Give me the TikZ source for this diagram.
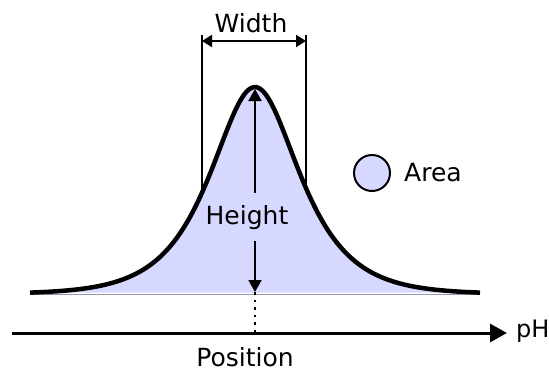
\documentclass[tikz,border=0pt]{standalone}
\usepackage{fontspec}
\setmainfont{DejaVu Sans}
\usetikzlibrary{positioning,arrows.meta}
\definecolor{peakfill}{RGB}{214,216,255}
\definecolor{peakedge}{RGB}{150,150,175}

\begin{document}
\begin{tikzpicture}[
      x=1pt, y=-1pt,
      lbl/.style={font=\fontsize{25}{30}\selectfont, inner sep=0pt},
      guide/.style={line width=2pt},
      arr/.style={-{Triangle[length=12pt, width=13pt]}, line width=2pt},
      dimarr/.style={{Triangle[length=10pt, width=12pt]}-{Triangle[length=10pt, width=12pt]}, line width=2pt},
      axis/.style={-{Triangle[length=17pt, width=18pt]}, line width=3pt}
  ]
    \useasboundingbox (0,0) rectangle (549,372);
    % width guides
    \coordinate (wltop) at (202,35);
    \coordinate (wlbot) at (202,189);
    \coordinate (wrtop) at (306,35);
    \coordinate (wrbot) at (306,189);
    \coordinate (wlmid) at (202,41);
    \coordinate (wrmid) at (306,41);
    \draw[guide] (wltop) -- (wlbot);
    \draw[guide] (wrtop) -- (wrbot);
    \draw[dimarr] (wlmid) -- (wrmid);
    \node[lbl, anchor=base] (widthlabel) at (251,32) {Width};
    % peak
    \coordinate (tailleft) at (30,294);
    \coordinate (tailright) at (480,294);
    \fill[peakfill] plot[domain=-225:225, samples=160] ({255+\x},{294-207/cosh(\x/39.5)}) -- cycle;
    \draw[peakedge, line width=0.8pt] (tailleft) -- (tailright);
    \draw[line width=4.5pt] plot[domain=-225:225, samples=160, smooth] ({255+\x},{294-207/cosh(\x/39.5)});
    % height
    \coordinate (peak) at (255,89);
    \coordinate (basept) at (255,292);
    \node[lbl, anchor=base, inner ysep=12pt] (heightlabel) at (247,224) {Height};
    \draw[arr] (heightlabel.north -| peak) -- (peak);
    \draw[arr] (heightlabel.south -| peak) -- (basept);
    % axis
    \coordinate (axstart) at (12,333);
    \coordinate (axend) at (507,333);
    \coordinate (axmark) at (255,333);
    \draw[line width=2pt, dash pattern=on 2.5pt off 5pt] (basept) -- (axmark);
    \draw[axis] (axstart) -- (axend);
    \node[lbl, font=\fontsize{24}{28}\selectfont, anchor=base west] (phlabel) at (516,337) {pH};
    \node[lbl, anchor=base] (poslabel) at (245,366) {Position};
    % area
    \node[circle, draw, fill=peakfill, line width=2pt, minimum size=36pt, inner sep=0pt] (areadot) at (372,173) {};
    \node[lbl, right=13pt of areadot] (arealabel) {Area};
  \end{tikzpicture}
\end{document}
